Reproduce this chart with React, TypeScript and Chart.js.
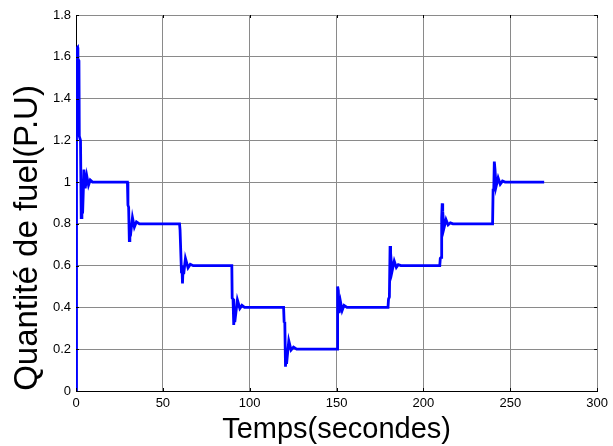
import React, { useEffect, useRef } from "react";
import { Chart, registerables } from "chart.js";

Chart.register(...registerables);

// Time (s) and fuel quantity (P.U)
const timeSec: number[] = [
  0, 0.3, 0.9, 1.1, 1.7, 1.9, 2.6, 3.0, 3.4, 3.8, 4.6, 5.3, 6.2, 7.2, 8.2, 9.5,
  29.6, 29.9, 30.3, 30.7, 31.0, 31.3, 32.5, 33.6, 34.8, 36.5,
  59.6, 59.9, 60.4, 60.7, 61.0, 61.3, 61.7, 62.0, 63.0, 64.5, 65.8, 67.5,
  89.7, 89.9, 90.4, 90.8, 91.1, 91.4, 92.9, 94.3, 95.5, 97.0,
  119.5, 119.8, 120.2, 120.6, 120.9, 121.2, 122.5, 123.8, 125.2, 127.0,
  150.3, 150.6, 151.0, 151.5, 152.3, 153.2, 154.3, 156.0,
  179.6, 179.9, 180.4, 180.8, 181.1, 181.9, 183.2, 184.4, 185.5, 187.0,
  209.4, 209.7, 210.2, 210.5, 210.8, 211.1, 211.8, 213.0, 214.2, 215.5, 217.0,
  239.8, 240.1, 240.5, 240.8, 241.2, 241.8, 243.0, 244.2, 245.5, 247.0,
  269.5,
];
const fuelPU: number[] = [
  0, 1.64, 1.645, 1.59, 1.58, 1.22, 1.2, 0.83, 0.92, 0.85, 1.06, 0.97, 1.03, 0.985, 1.01, 1.0,
  1.0, 0.89, 0.88, 0.72, 0.79, 0.74, 0.83, 0.785, 0.81, 0.8,
  0.8, 0.77, 0.77, 0.57, 0.6, 0.515, 0.6, 0.56, 0.635, 0.59, 0.607, 0.6,
  0.6, 0.445, 0.44, 0.316, 0.38, 0.33, 0.436, 0.395, 0.41, 0.4,
  0.4, 0.332, 0.33, 0.116, 0.18, 0.13, 0.24, 0.196, 0.21, 0.2,
  0.2, 0.5, 0.48, 0.373, 0.425, 0.385, 0.41, 0.4,
  0.4, 0.44, 0.45, 0.694, 0.66, 0.571, 0.622, 0.592, 0.605, 0.6,
  0.6, 0.635, 0.64, 0.827, 0.898, 0.86, 0.779, 0.82, 0.795, 0.805, 0.8,
  0.8, 0.962, 0.97, 1.098, 1.06, 0.978, 1.02, 0.99, 1.005, 1.0,
  1.0,
];

const xTickLabels: string[] = ["0", "50", "100", "150", "200", "250", "300"];
const yTickLabels: string[] = ["0", "0.2", "0.4", "0.6", "0.8", "1", "1.2", "1.4", "1.6", "1.8"];
const xTitle = "Temps(secondes)";
const yTitle = "Quantité de fuel(P.U)";

const FONT = "'Liberation Sans', Arial, Helvetica, sans-serif";

const decorPlugin = {
  id: "decor",
  afterDraw(chart: any) {
    const { ctx, chartArea, scales } = chart;
    const xs = scales.x;
    const ys = scales.y;
    ctx.save();
    // inward tick marks
    ctx.strokeStyle = "#000";
    ctx.lineWidth = 1;
    const tl = 3;
    xs.ticks.forEach((t: any) => {
      const px = Math.round(xs.getPixelForValue(t.value)) + 0.5;
      ctx.beginPath();
      ctx.moveTo(px, chartArea.bottom);
      ctx.lineTo(px, chartArea.bottom - tl);
      ctx.moveTo(px, chartArea.top);
      ctx.lineTo(px, chartArea.top + tl);
      ctx.stroke();
    });
    ys.ticks.forEach((t: any) => {
      const py = Math.round(ys.getPixelForValue(t.value)) + 0.5;
      ctx.beginPath();
      ctx.moveTo(chartArea.left, py);
      ctx.lineTo(chartArea.left + tl, py);
      ctx.moveTo(chartArea.right, py);
      ctx.lineTo(chartArea.right - tl, py);
      ctx.stroke();
    });
    // axis titles
    ctx.fillStyle = "#000";
    ctx.textAlign = "center";
    ctx.textBaseline = "alphabetic";
    ctx.font = `29px ${FONT}`;
    ctx.fillText(xTitle, (chartArea.left + chartArea.right) / 2, 438);
    ctx.translate(37, 238);
    ctx.rotate(-Math.PI / 2);
    ctx.font = `33px ${FONT}`;
    ctx.fillText(yTitle, 0, 0);
    ctx.restore();
  },
};

export default function App() {
  const canvasRef = useRef<HTMLCanvasElement | null>(null);

  useEffect(() => {
    const canvas = canvasRef.current;
    if (!canvas) return;
    const points = timeSec.map((t, i) => ({ x: t, y: fuelPU[i] }));
    const chart = new Chart(canvas, {
      type: "line",
      data: {
        datasets: [
          {
            data: points,
            borderColor: "#0000ff",
            backgroundColor: "#0000ff",
            borderWidth: 2.8,
            pointRadius: 0,
            tension: 0,
            fill: false,
          },
        ],
      },
      options: {
        responsive: false,
        animation: false,
        devicePixelRatio: 1,
        layout: { padding: { top: 15, right: 13, left: 0, bottom: 0 } },
        plugins: {
          legend: { display: false },
          tooltip: { enabled: false },
        },
        scales: {
          x: {
            type: "linear",
            min: 0,
            max: 300,
            afterFit: (s: any) => {
              s.height = 55;
            },
            afterBuildTicks: (s: any) => {
              s.ticks = xTickLabels.map((l) => ({ value: Number(l) }));
            },
            ticks: {
              autoSkip: false,
              maxRotation: 0,
              padding: 5,
              color: "#000",
              font: { family: FONT, size: 13 },
              callback: (_v: any, i: number) => xTickLabels[i],
            },
            grid: { color: "#8a8a8a", lineWidth: 1, drawTicks: false },
            border: { display: true, color: "#000", width: 1 },
          },
          y: {
            type: "linear",
            min: 0,
            max: 1.8,
            afterFit: (s: any) => {
              s.width = 76;
            },
            afterBuildTicks: (s: any) => {
              s.ticks = yTickLabels.map((l) => ({ value: Number(l) }));
            },
            ticks: {
              autoSkip: false,
              padding: 5,
              color: "#000",
              font: { family: FONT, size: 13 },
              callback: (_v: any, i: number) => yTickLabels[i],
            },
            grid: { color: "#8a8a8a", lineWidth: 1, drawTicks: false },
            border: { display: true, color: "#000", width: 1 },
          },
        },
      },
      plugins: [decorPlugin],
    });
    return () => chart.destroy();
  }, []);

  return (
    <div style={{ position: "fixed", left: 0, top: 0, width: 613, height: 446, background: "#fff" }}>
      <canvas ref={canvasRef} width={613} height={446} style={{ display: "block" }} />
    </div>
  );
}
